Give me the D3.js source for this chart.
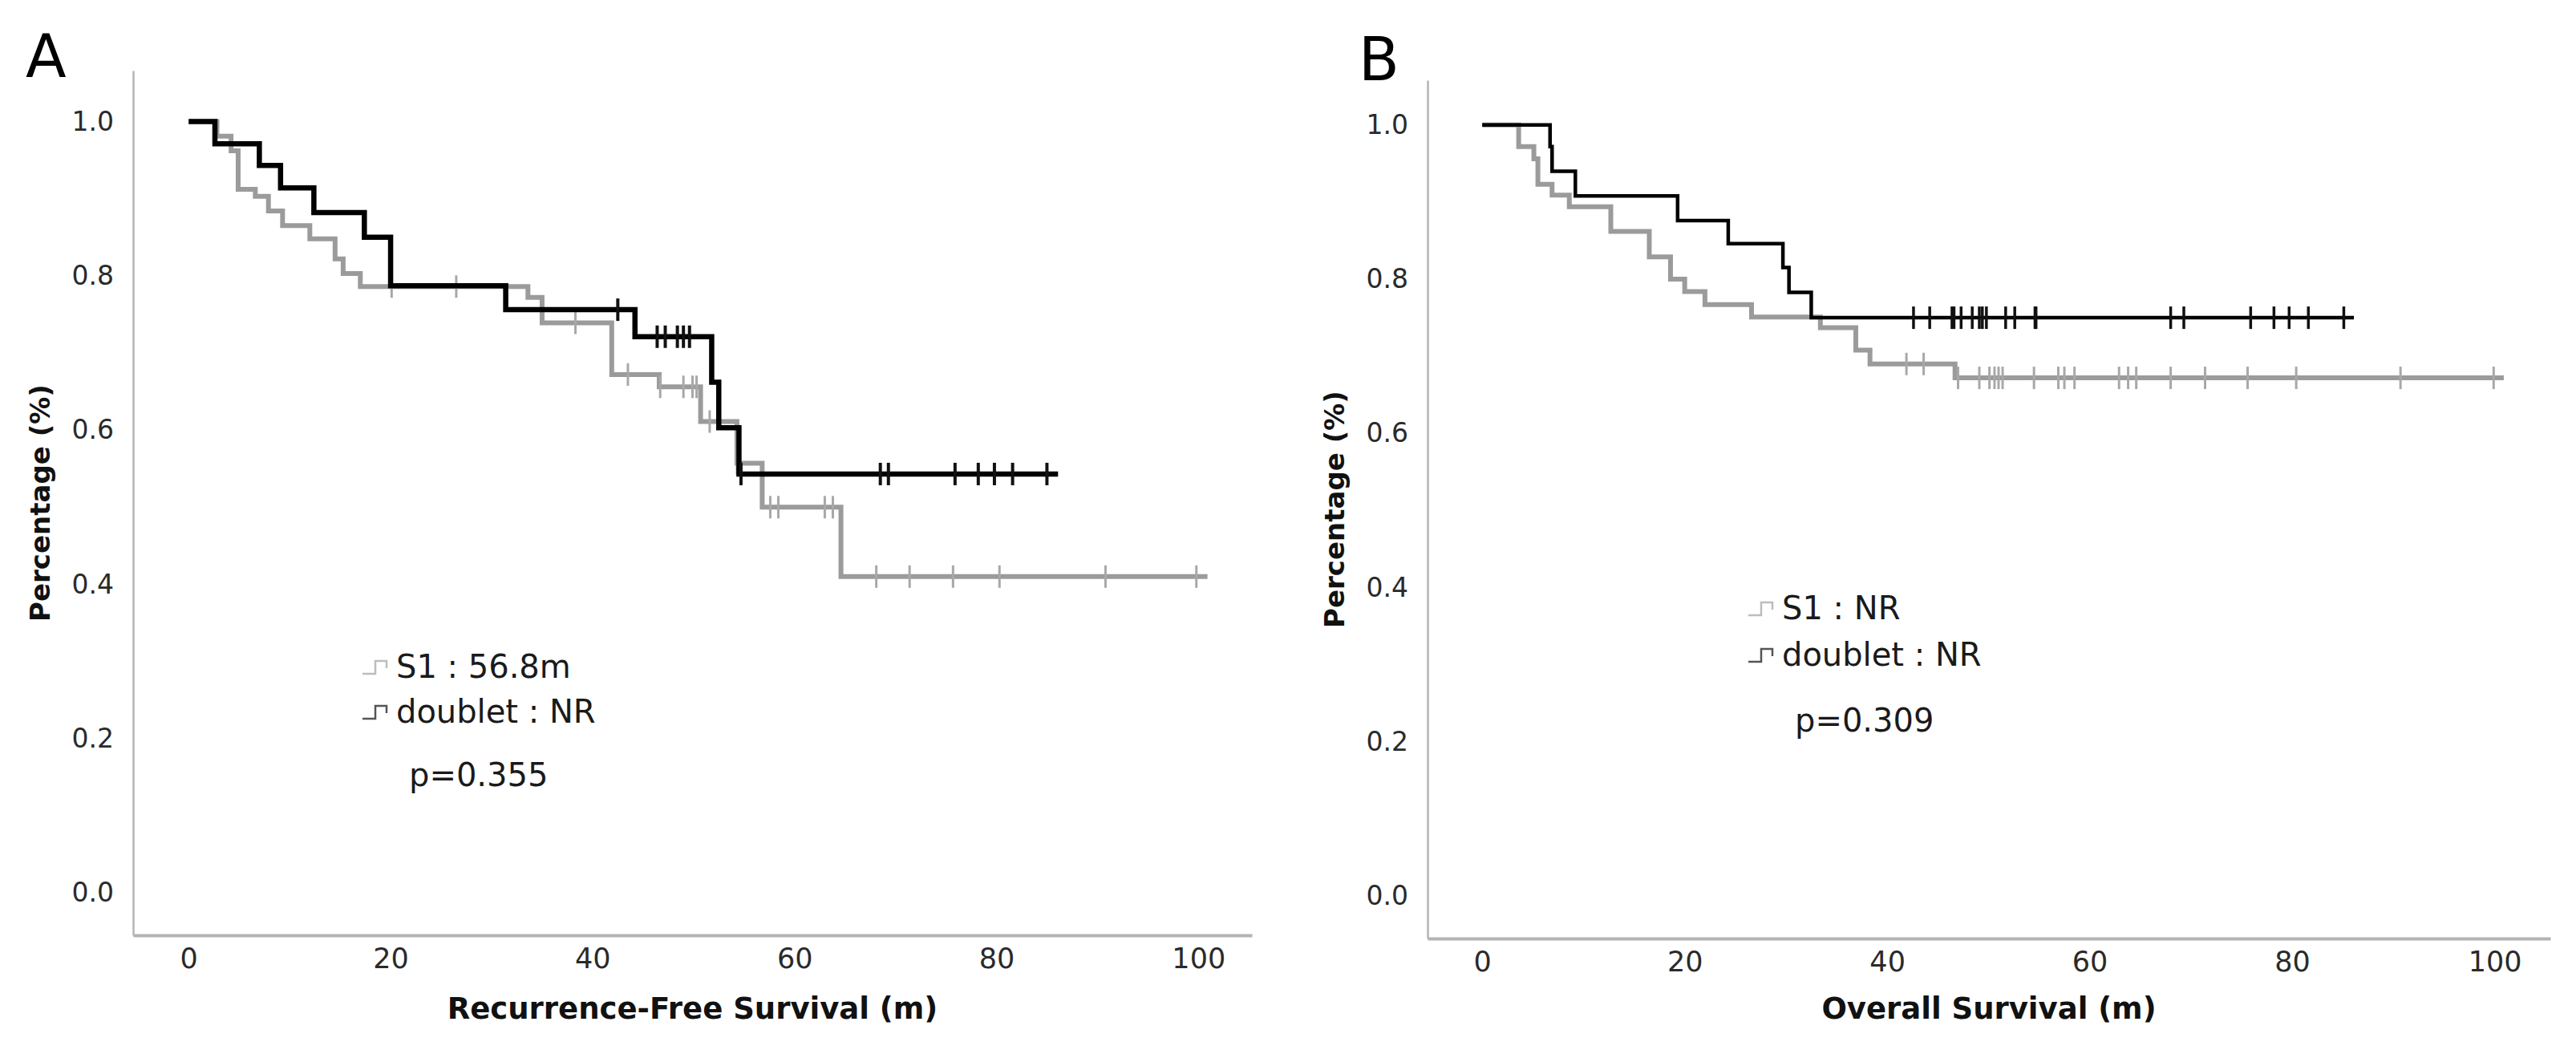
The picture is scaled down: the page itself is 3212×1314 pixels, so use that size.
<!DOCTYPE html>
<meta charset="utf-8">
<html>
  <head>
    <script src="https://cdn.jsdelivr.net/npm/d3@7"></script>
    <style>
      body { margin: 0; background: #fff; }
      text { font-family: "DejaVu Sans", Verdana, sans-serif; }
    </style>
  </head>
  <body>
    <div id="chart"></div>

    <script type="text/javascript">
      var xTicks = [0, 20, 40, 60, 80, 100],
          yTicks = [0, 0.2, 0.4, 0.6, 0.8, 1.0];

      // A: recurrence-free survival, steps are [month, survival after the drop]
      var rfsS1 = [[0, 1], [2.8, 0.981], [4.2, 0.962], [4.9, 0.912], [6.6, 0.903], [7.9, 0.884],
                   [9.3, 0.865], [12.0, 0.848], [14.5, 0.822], [15.3, 0.803], [17.0, 0.786],
                   [33.6, 0.772], [35.0, 0.739], [41.9, 0.672], [46.6, 0.656], [50.7, 0.611],
                   [54.3, 0.557], [56.8, 0.50], [64.6, 0.41]];
      var rfsS1Censored = [20.1, 26.5, 38.3, 43.5, 46.7, 49.0, 49.9, 50.3, 51.6, 54.3, 57.6, 58.4,
                           63.0, 63.8, 68.1, 71.4, 75.7, 80.3, 90.8, 99.8];
      var rfsS1End = 100.9;
      var rfsDoublet = [[0, 1], [2.6, 0.971], [7.0, 0.943], [9.1, 0.914], [12.4, 0.882], [17.4, 0.850],
                        [20.0, 0.787], [31.4, 0.756], [44.2, 0.721], [51.8, 0.662], [52.5, 0.603],
                        [54.5, 0.543]];
      var rfsDoubletCensored = [42.5, 46.4, 47.2, 48.4, 49.0, 49.6, 54.7, 68.5, 69.3, 75.9, 78.2,
                                79.8, 81.6, 85.0];
      var rfsDoubletEnd = 86.1;
      var rfsLegend = ["S1 : 56.8m", "doublet : NR"],
          rfsP = "p=0.355";

      // B: overall survival
      var osS1 = [[0, 1], [3.6, 0.972], [5.1, 0.956], [5.5, 0.923], [6.9, 0.909], [8.6, 0.894],
                  [12.7, 0.862], [16.5, 0.829], [18.6, 0.80], [20.0, 0.784], [22.0, 0.767],
                  [26.6, 0.751], [33.4, 0.737], [36.9, 0.708], [38.3, 0.690], [46.7, 0.672]];
      var osS1Censored = [41.9, 43.6, 47.0, 49.1, 50.1, 50.6, 51.0, 51.4, 54.5, 56.9, 57.5, 58.5,
                          62.9, 63.8, 64.6, 68.0, 71.4, 75.6, 80.4, 90.7, 99.9];
      var osS1End = 100.9;
      var osDoublet = [[0, 1], [6.7, 0.972], [6.9, 0.940], [9.2, 0.908], [19.3, 0.876], [24.3, 0.846],
                       [29.7, 0.815], [30.3, 0.783], [32.5, 0.75]];
      var osDoubletCensored = [42.6, 44.2, 46.4, 46.6, 47.3, 48.4, 49.1, 49.4, 49.8, 51.7, 52.6,
                               54.6, 54.7, 68.0, 69.3, 75.9, 78.2, 79.7, 81.6, 85.1];
      var osDoubletEnd = 86.1;
      var osLegend = ["S1 : NR", "doublet : NR"],
          osP = "p=0.309";

      var width = 3212, height = 1314;

      var svg = d3.select("#chart").append("svg")
          .attr("width", width)
          .attr("height", height)
          .style("background", "#fff");

      var panels = [
        { letter: "A", letterX: 32, letterY: 96,
          xDomain: [-5.5, 105.3], xRange: [166, 1561],
          yDomain: [-0.055, 1.066], yRange: [1166, 88],
          title: "Recurrence-Free Survival (m)", yTitleX: 50,
          groups: [
            { steps: rfsS1, censored: rfsS1Censored, end: rfsS1End, color: "#9b9b9b", tick: "#a8a8a8", width: 6, tickWidth: 3 },
            { steps: rfsDoublet, censored: rfsDoubletCensored, end: rfsDoubletEnd, color: "#000", tick: "#111", width: 6.5, tickWidth: 4 }
          ],
          legend: rfsLegend, p: rfsP,
          legendX: 452, legendY: 845, legendGap: 56, pX: 510, pY: 980 },
        { letter: "B", letterX: 1694, letterY: 100,
          xDomain: [-5.4, 105.5], xRange: [1780, 3180],
          yDomain: [-0.055, 1.058], yRange: [1170, 100],
          title: "Overall Survival (m)", yTitleX: 1664,
          groups: [
            { steps: osS1, censored: osS1Censored, end: osS1End, color: "#9b9b9b", tick: "#a8a8a8", width: 6, tickWidth: 3 },
            { steps: osDoublet, censored: osDoubletCensored, end: osDoubletEnd, color: "#000", tick: "#111", width: 4.5, tickWidth: 3.5 }
          ],
          legend: osLegend, p: osP,
          legendX: 2180, legendY: 772, legendGap: 58, pX: 2238, pY: 912 }
      ];

      function survAt(steps, t) {
        var s = steps[0][1];
        steps.forEach(function(d) { if (d[0] <= t) s = d[1]; });
        return s;
      }

      panels.forEach(function(p) {
        var x = d3.scaleLinear().domain(p.xDomain).range(p.xRange),
            y = d3.scaleLinear().domain(p.yDomain).range(p.yRange);
        var g = svg.append("g");

        // axes
        var xAxis = g.append("g")
            .attr("transform", "translate(0," + p.yRange[0] + ")")
            .call(d3.axisBottom(x).tickValues(xTicks).tickSize(0).tickSizeOuter(0).tickPadding(16));
        xAxis.select(".domain").attr("stroke", "#b4b4b4").attr("stroke-width", 4);
        xAxis.selectAll("text").attr("font-size", 35).attr("fill", "#2a2a2a")
            .attr("font-family", "DejaVu Sans");

        var yAxis = g.append("g")
            .attr("transform", "translate(" + p.xRange[0] + ",0)")
            .call(d3.axisLeft(y).tickValues(yTicks).tickFormat(d3.format(".1f")).tickSize(0).tickSizeOuter(0).tickPadding(24));
        yAxis.select(".domain").attr("stroke", "#b4b4b4").attr("stroke-width", 2.5);
        yAxis.selectAll("text").attr("font-size", 33).attr("fill", "#2a2a2a")
            .attr("font-family", "DejaVu Sans");

        // titles
        g.append("text")
            .attr("x", (p.xRange[0] + p.xRange[1]) / 2)
            .attr("y", 1270)
            .attr("text-anchor", "middle")
            .attr("font-size", 37)
            .attr("font-weight", "bold")
            .attr("fill", "#111")
            .text(p.title);

        g.append("text")
            .attr("transform", "translate(" + p.yTitleX + "," + ((p.yRange[0] + p.yRange[1]) / 2) + ") rotate(-90)")
            .attr("text-anchor", "middle")
            .attr("dy", "0.35em")
            .attr("font-size", 34)
            .attr("font-weight", "bold")
            .attr("fill", "#111")
            .text("Percentage (%)");

        g.append("text")
            .attr("x", p.letterX)
            .attr("y", p.letterY)
            .attr("font-size", 74)
            .attr("fill", "#000")
            .text(p.letter);

        // curves
        var line = d3.line()
            .x(function(d) { return x(d[0]); })
            .y(function(d) { return y(d[1]); })
            .curve(d3.curveStepAfter);

        p.groups.forEach(function(grp) {
          var pts = grp.steps.concat([[grp.end, grp.steps[grp.steps.length - 1][1]]]);
          g.append("path")
              .attr("d", line(pts))
              .attr("fill", "none")
              .attr("stroke", grp.color)
              .attr("stroke-width", grp.width)
              .attr("stroke-linejoin", "miter");

          g.selectAll(null)
              .data(grp.censored)
              .enter().append("line")
                .attr("x1", function(d) { return x(d); })
                .attr("x2", function(d) { return x(d); })
                .attr("y1", function(d) { return y(survAt(grp.steps, d)) - 14; })
                .attr("y2", function(d) { return y(survAt(grp.steps, d)) + 14; })
                .attr("stroke", grp.tick)
                .attr("stroke-width", grp.tickWidth);
        });

        // legend
        var iconColors = ["#bdbdbd", "#555"];
        p.legend.forEach(function(label, i) {
          var ly = p.legendY + i * p.legendGap;
          g.append("path")
              .attr("d", "M" + p.legendX + "," + (ly - 5) + " h16 v-16 h14 v9")
              .attr("fill", "none")
              .attr("stroke", iconColors[i])
              .attr("stroke-width", 2.5);
          g.append("text")
              .attr("x", p.legendX + 42)
              .attr("y", ly)
              .attr("font-size", 40)
              .attr("fill", "#1a1a1a")
              .text(label);
        });
        g.append("text")
            .attr("x", p.pX)
            .attr("y", p.pY)
            .attr("font-size", 40)
            .attr("fill", "#1a1a1a")
            .text(p.p);
      });
    </script>
  </body>
</html>
